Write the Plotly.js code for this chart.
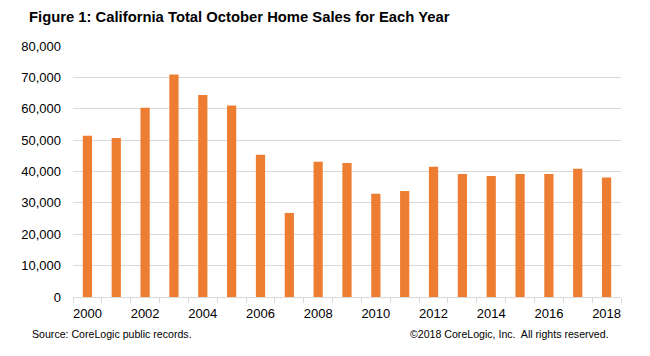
<!DOCTYPE html>
<html>
<head>
<meta charset="utf-8">
<script src="https://cdn.plot.ly/plotly-3.0.1.min.js"></script>
<style>html,body{margin:0;padding:0;background:#fff;}#chart{width:650px;height:356px;}</style>
</head>
<body>
<div id="chart"></div>
<script>
const years = [2000,2001,2002,2003,2004,2005,2006,2007,2008,2009,2010,2011,2012,2013,2014,2015,2016,2017,2018];
const sales = [51400,50700,60300,70900,64400,61000,45300,26800,43100,42700,32900,33800,41500,39200,38600,39200,39200,40900,38100];
const yTickVals = [0,10000,20000,30000,40000,50000,60000,70000,80000];
const yTickText = ["0","10,000","20,000","30,000","40,000","50,000","60,000","70,000","80,000"];
const xTickVals = [2000,2002,2004,2006,2008,2010,2012,2014,2016,2018];
const xTickText = ["2000","2002","2004","2006","2008","2010","2012","2014","2016","2018"];

const trace = {
  type: 'bar', x: years, y: sales,
  marker: {color: '#ED7D31'},
  width: 0.32,
  hoverinfo: 'x+y'
};
const font = {family: 'Liberation Sans, Arial, sans-serif', color: '#000'};
const layout = {
  width: 650, height: 356,
  margin: {l: 73, r: 29, t: 46, b: 59, pad: 0},
  paper_bgcolor: '#fff', plot_bgcolor: '#fff',
  font: font,
  showlegend: false,
  title: {text: 'Figure 1: California Total October Home Sales for Each Year',
    font: {family: 'Liberation Sans, Arial, sans-serif', size: 14.8, color: '#000', weight: 'bold'},
    x: 29/650, xanchor: 'left', xref: 'container', y: 1 - 17/356, yanchor: 'middle', yref: 'container'},
  xaxis: {
    range: [1999.5, 2018.5], tickmode: 'array', tickvals: xTickVals, ticktext: xTickText,
    ticks: '', showgrid: false, zeroline: false,
    showline: true, linecolor: '#d9d9d9', linewidth: 1,
    tickfont: {size: 13, color: '#000'},
    ticklabelstandoff: 4,
    minor: {tickmode: 'linear', tick0: 1999.5, dtick: 1, ticks: 'outside', ticklen: 5, tickcolor: '#d9d9d9', tickwidth: 1, showgrid: false},
    fixedrange: true
  },
  yaxis: {
    range: [0, 80000], tickmode: 'array', tickvals: yTickVals, ticktext: yTickText,
    ticks: '', showgrid: true, gridcolor: '#d9d9d9', gridwidth: 1, zeroline: false,
    showline: false, tickfont: {size: 13, color: '#000'},
    ticklabelstandoff: 11,
    fixedrange: true
  },
  annotations: [
    {text: 'Source: CoreLogic public records.', xref: 'paper', yref: 'paper',
     x: (30-73)/548, y: (296.7-334)/250.7, xanchor: 'left', yanchor: 'middle', showarrow: false,
     font: {size: 10.6, color: '#000'}},
    {text: '©2018 CoreLogic, Inc.  All rights reserved.', xref: 'paper', yref: 'paper',
     x: (611-73)/548, y: (296.7-334)/250.7, xanchor: 'right', yanchor: 'middle', showarrow: false,
     font: {size: 10.6, color: '#000'}}
  ]
};
Plotly.newPlot('chart', [trace], layout, {displayModeBar: false, staticPlot: true});
</script>
</body>
</html>
